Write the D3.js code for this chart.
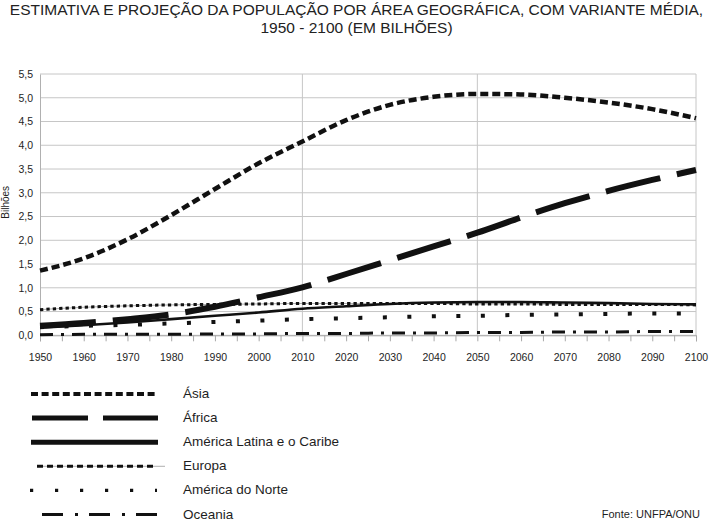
<!DOCTYPE html>
<html>
<head>
<meta charset="utf-8">
<script src="https://cdn.jsdelivr.net/npm/d3@7"></script>
<style>
  body { margin: 0; background: #fff; }
  svg { display: block; font-family: "Liberation Sans", Arial, sans-serif; }
</style>
</head>
<body>
<div id="chart"></div>
<script>
// values (billions)
const years = [1950, 1960, 1970, 1980, 1990, 2000, 2010, 2020, 2030, 2040, 2050, 2060, 2070, 2080, 2090, 2100];
const asia     = [1.36, 1.62, 2.02, 2.53, 3.08, 3.62, 4.08, 4.53, 4.85, 5.02, 5.08, 5.07, 5.00, 4.90, 4.76, 4.57];
const africa   = [0.20, 0.26, 0.34, 0.44, 0.60, 0.80, 1.01, 1.29, 1.58, 1.87, 2.16, 2.48, 2.78, 3.04, 3.27, 3.48];
const latAm    = [0.16, 0.21, 0.27, 0.34, 0.41, 0.48, 0.56, 0.61, 0.66, 0.69, 0.70, 0.70, 0.69, 0.68, 0.66, 0.65];
const europe   = [0.54, 0.59, 0.62, 0.64, 0.65, 0.66, 0.67, 0.67, 0.67, 0.67, 0.66, 0.66, 0.65, 0.65, 0.65, 0.64];
const northAm  = [0.17, 0.20, 0.22, 0.25, 0.28, 0.31, 0.34, 0.36, 0.38, 0.40, 0.41, 0.43, 0.44, 0.45, 0.46, 0.46];
const oceania  = [0.01, 0.02, 0.02, 0.02, 0.03, 0.03, 0.04, 0.04, 0.05, 0.05, 0.06, 0.06, 0.07, 0.07, 0.08, 0.08];

const seriesNames = ["Ásia", "África", "América Latina e o Caribe", "Europa", "América do Norte", "Oceania"];
const seriesValues = [asia, africa, latAm, europe, northAm, oceania];

const yTicks = [0, 0.5, 1, 1.5, 2, 2.5, 3, 3.5, 4, 4.5, 5, 5.5];
const xLabels = [1950, 1960, 1970, 1980, 1990, 2000, 2010, 2020, 2030, 2040, 2050, 2060, 2070, 2080, 2090, 2100];
const xMinor = d3.range(1950, 2101, 5);
const markerYears = [2010, 2050, 2100];

const titleLines = ["ESTIMATIVA E PROJEÇÃO DA POPULAÇÃO POR ÁREA GEOGRÁFICA, COM VARIANTE MÉDIA,",
                    "1950 - 2100 (EM BILHÕES)"];

// line styles: chart stroke / legend stroke
const styles = [
  { w: 4.5, dash: "8,4",        lw: 4.2, ldash: "7,3.6" },
  { w: 6,   dash: "56,17",      lw: 5,   ldash: "56,15" },
  { w: 2.6, dash: null,         lw: 5,   ldash: null },
  { w: 3,   dash: "3.3,3.1",    lw: 3,   ldash: "6,4", thin: true },
  { w: 4,   dash: "4,20.5",     lw: 3.2, ldash: "3.2,21.8" },
  { w: 3,   dash: "13,8,3,8",   lw: 3,   ldash: "21,12,3,11" }
];

const W = 712, H = 521;
const margin = { top: 74, left: 40, right: 16 },
    plotW = W - margin.left - margin.right,
    plotH = 261.3;

const svg = d3.select("#chart").append("svg")
    .attr("width", W)
    .attr("height", H);

const x = d3.scaleLinear().domain([1950, 2100]).range([margin.left, margin.left + plotW]);
const y = d3.scaleLinear().domain([0, 5.5]).range([margin.top + plotH, margin.top]);

const commaFmt = d3.formatLocale({ decimal: ",", thousands: ".", grouping: [3], currency: ["", ""] }).format(".1f");

// title
svg.append("g").selectAll("text")
    .data(titleLines)
    .enter().append("text")
    .attr("x", W / 2 + 0.5)
    .attr("y", (d, i) => 15 + i * 18)
    .attr("text-anchor", "middle")
    .style("font-size", "15.5px")
    .style("fill", "#222")
    .text(d => d);

// horizontal grid
svg.append("g").selectAll("line")
    .data(yTicks)
    .enter().append("line")
    .attr("x1", x(1950)).attr("x2", x(2100))
    .attr("y1", d => y(d)).attr("y2", d => y(d))
    .attr("stroke", "#c6c6c6")
    .attr("stroke-width", 1);

// vertical marker lines
svg.append("g").selectAll("line")
    .data(markerYears)
    .enter().append("line")
    .attr("x1", d => x(d)).attr("x2", d => x(d))
    .attr("y1", y(5.5)).attr("y2", y(0))
    .attr("stroke", "#c6c6c6")
    .attr("stroke-width", 1);

// y axis
const yAxis = svg.append("g")
    .attr("transform", `translate(${x(1950)},0)`)
    .call(d3.axisLeft(y).tickValues(yTicks).tickFormat(commaFmt).tickSize(0).tickPadding(7));
yAxis.select(".domain").attr("stroke", "#b0b0b0");
yAxis.selectAll("text").style("font-size", "10.5px").style("fill", "#1e1e1e").attr("font-family", null);

// x axis
const xAxis = svg.append("g")
    .attr("transform", `translate(0,${y(0)})`)
    .call(d3.axisBottom(x).tickValues(xMinor).tickSize(6).tickFormat(d => xLabels.includes(d) ? d : "").tickPadding(12));
xAxis.select(".domain").attr("stroke", "#a8a8a8");
xAxis.selectAll(".tick line").attr("stroke", "#a8a8a8");
xAxis.selectAll("text").style("font-size", "10.5px").style("fill", "#1e1e1e").attr("font-family", null);

// y title
svg.append("text")
    .attr("transform", `translate(9,${y(2.8)}) rotate(-90)`)
    .attr("text-anchor", "middle")
    .style("font-size", "10px")
    .style("fill", "#1e1e1e")
    .text("Bilhões");

const line = d3.line()
    .x(d => x(d.year))
    .y(d => y(d.value))
    .curve(d3.curveMonotoneX);

// draw series, back to front
const order = [5, 4, 3, 2, 1, 0];
order.forEach(i => {
    const pts = years.map((yr, k) => ({ year: yr, value: seriesValues[i][k] }));
    const s = styles[i];
    if (s.thin) {
        svg.append("path")
            .datum(pts)
            .attr("fill", "none")
            .attr("stroke", "#9a9a9a")
            .attr("stroke-width", 0.8)
            .attr("d", line);
    }
    svg.append("path")
        .datum(pts)
        .attr("class", "line")
        .attr("fill", "none")
        .attr("stroke", "#111")
        .attr("stroke-width", s.w)
        .attr("stroke-dasharray", s.dash)
        .attr("d", line);
});

// legend
const legend = svg.append("g");
const legendItems = legend.selectAll(".legend-item")
    .data(seriesNames)
    .enter().append("g")
    .attr("class", "legend-item")
    .attr("transform", (d, i) => `translate(0,${394 + i * 24.1})`);

legendItems.filter((d, i) => styles[i].thin).append("line")
    .attr("x1", 37).attr("x2", 165)
    .attr("y1", 0).attr("y2", 0)
    .attr("stroke", "#9a9a9a")
    .attr("stroke-width", 0.8);

const legendStart = [31, 32, 31, 37, 30, 42];
const legendEnd = [158, 158, 158, 157, 157, 157];
legendItems.append("line")
    .attr("x1", (d, i) => legendStart[i])
    .attr("x2", (d, i) => legendEnd[i])
    .attr("y1", 0).attr("y2", 0)
    .attr("stroke", "#111")
    .attr("stroke-width", (d, i) => styles[i].lw)
    .attr("stroke-dasharray", (d, i) => styles[i].ldash);

legendItems.append("text")
    .attr("x", 183)
    .attr("y", 0)
    .attr("dy", ".3em")
    .style("font-size", "13.5px")
    .style("fill", "#1e1e1e")
    .text(d => d);

// source
svg.append("text")
    .attr("x", 700)
    .attr("y", 518)
    .attr("text-anchor", "end")
    .style("font-size", "11px")
    .style("fill", "#1e1e1e")
    .text("Fonte: UNFPA/ONU");
</script>
</body>
</html>
